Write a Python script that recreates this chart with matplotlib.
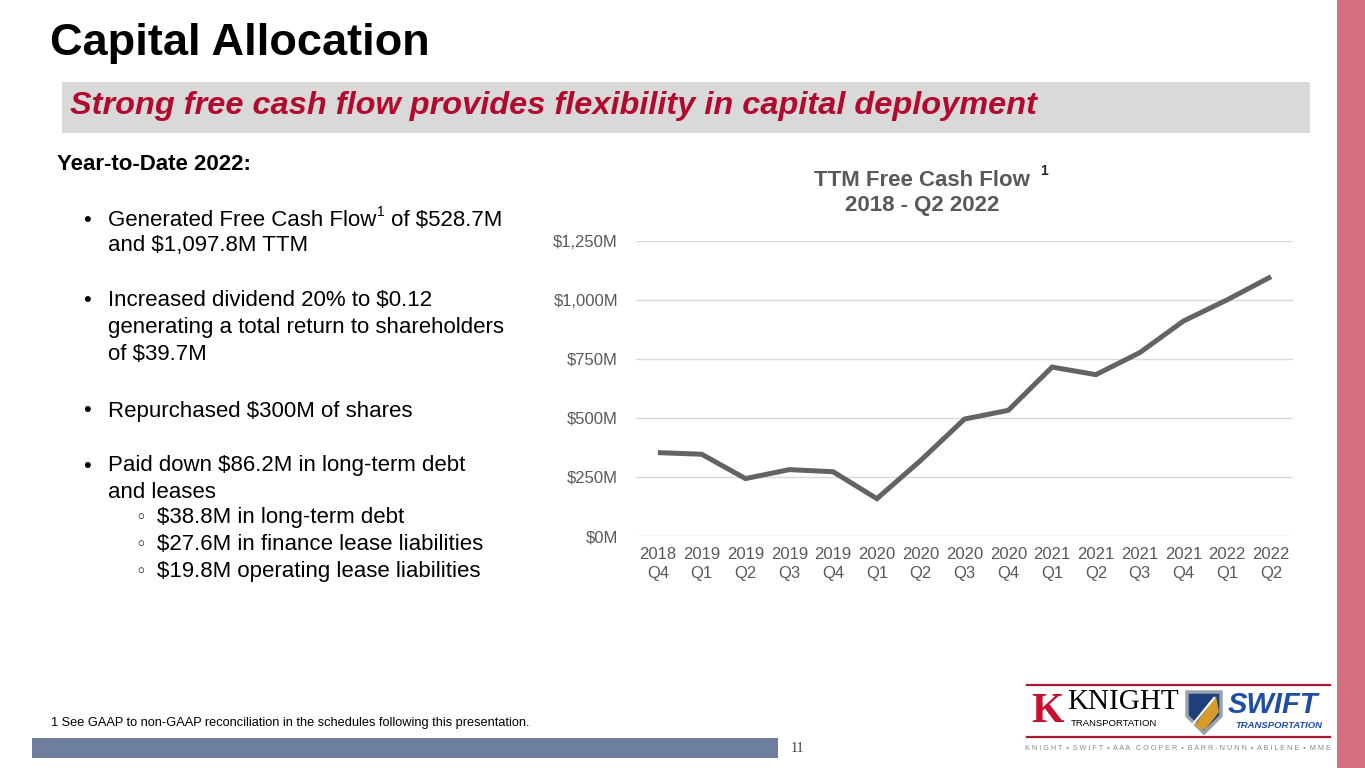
import matplotlib
matplotlib.use("Agg")
import matplotlib.pyplot as plt
from matplotlib.patches import Rectangle, Polygon

plt.rcParams["font.family"] = ["Liberation Sans", "DejaVu Sans"]
plt.rcParams["text.parse_math"] = False

# ── data ──────────────────────────────────────────────────────────────────────
quarters = ["2018\nQ4", "2019\nQ1", "2019\nQ2", "2019\nQ3", "2019\nQ4",
            "2020\nQ1", "2020\nQ2", "2020\nQ3", "2020\nQ4", "2021\nQ1",
            "2021\nQ2", "2021\nQ3", "2021\nQ4", "2022\nQ1", "2022\nQ2"]
fcf_ttm = [353, 346, 243, 281, 272, 158, 320, 495, 532, 715,
           683, 776, 910, 1000, 1097.8]
y_ticks = [0, 250, 500, 750, 1000, 1250]

bullets = [
    ["Generated Free Cash Flow", "and $1,097.8M TTM"],
    ["Increased dividend 20% to $0.12",
     "generating a total return to shareholders", "of $39.7M"],
    ["Repurchased $300M of shares"],
    ["Paid down $86.2M in long-term debt", "and leases"],
]
sub_bullets = ["$38.8M in long-term debt",
               "$27.6M in finance lease liabilities",
               "$19.8M operating lease liabilities"]

W, H = 1365, 768
RED = "#b20a2f"
GREY_TXT = "#595959"

fig = plt.figure(figsize=(W / 100, H / 100), dpi=100)
fig.patch.set_facecolor("white")

# pixel-space overlay for slide furniture
bg = fig.add_axes([0, 0, 1, 1])
bg.set_xlim(0, W); bg.set_ylim(H, 0)
bg.axis("off")
bg.patch.set_alpha(0)

bg.add_patch(Rectangle((1337, 0), 28, H, color="#d6707f", lw=0))
bg.add_patch(Rectangle((62, 82), 1248, 51, color="#d9d9d9", lw=0))
bg.add_patch(Rectangle((32, 738), 746, 20, color="#6e7e9f", lw=0))

bg.text(50, 44, "Capital Allocation", fontsize=32.5, fontweight="bold",
        color="black", va="center", ha="left")
bg.text(70, 106, "Strong free cash flow provides flexibility in capital deployment",
        fontsize=23.4, fontweight="bold", fontstyle="italic", color=RED,
        va="center", ha="left")

# ── left text block ───────────────────────────────────────────────────────────
bg.text(57, 165, "Year-to-Date 2022:", fontsize=16, fontweight="bold",
        va="center", ha="left")

line_y = [[220, 246], [300, 327, 354], [411], [466, 492]]
first_line = None
for lines, ys in zip(bullets, line_y):
    bg.text(83, ys[0], "•", fontsize=16, va="center", ha="left")
    for txt, y in zip(lines, ys):
        t = bg.text(108, y, txt, fontsize=16, va="center", ha="left")
        if first_line is None:
            first_line = t

# superscript after "Generated Free Cash Flow"
fig.canvas.draw()
r = fig.canvas.get_renderer()
bb = first_line.get_window_extent(r)
sup = fig.text(bb.x1 / W + 0.0005, 1 - 212 / H, "1", fontsize=10, va="center", ha="left")
bb2 = sup.get_window_extent(r)
fig.text(bb2.x1 / W, 1 - 220 / H, " of $528.7M", fontsize=16, va="center", ha="left")

for txt, y in zip(sub_bullets, [518, 545, 572]):
    bg.text(135, y, "◦", fontsize=13, va="center", ha="left",
            family=["DejaVu Sans"])
    bg.text(157, y, txt, fontsize=16, va="center", ha="left")

bg.text(51, 723, "1 See GAAP to non-GAAP reconciliation in the schedules following this presentation.",
        fontsize=9.2, va="center", ha="left")
bg.text(797, 748, "11", fontsize=10, family="Liberation Serif", color="#404040",
        va="center", ha="center")

# ── chart ─────────────────────────────────────────────────────────────────────
bg.text(922, 180, "TTM Free Cash Flow", fontsize=16, fontweight="bold",
        color=GREY_TXT, va="center", ha="center")
bg.text(922, 206, "2018 - Q2 2022", fontsize=16, fontweight="bold",
        color=GREY_TXT, va="center", ha="center")
bg.text(1044, 171, "1", fontsize=10, fontweight="bold", color="#262626",
        va="center", ha="center")

ax = fig.add_axes([636 / W, 1 - 536 / H, (1293 - 636) / W, (536 - 240.7) / H])
x = list(range(len(quarters)))
ax.plot(x, fcf_ttm, color="#636363", lw=3.6, solid_capstyle="butt",
        solid_joinstyle="miter")
ax.set_xlim(-0.5, len(quarters) - 0.5)
ax.set_ylim(0, 1250)
ax.set_yticks(y_ticks)
ax.set_yticklabels([f"${v:,}M" for v in y_ticks])
ax.set_xticks(x)
ax.set_xticklabels(quarters, linespacing=1.35)
ax.grid(axis="y", color="#d9d9d9", lw=1)
ax.set_axisbelow(True)
for s in ax.spines.values():
    s.set_visible(False)
ax.tick_params(length=0, labelsize=12, colors=GREY_TXT)
ax.tick_params(axis="y", pad=13)
ax.tick_params(axis="x", pad=8)
ax.patch.set_alpha(0)

# ── logo (approximation) ──────────────────────────────────────────────────────
bg.plot([1027, 1330], [685, 685], color="#a6192e", lw=1.6)
bg.plot([1027, 1330], [737, 737], color="#a6192e", lw=1.6)
bg.text(1047, 712, "K", fontsize=30, fontweight="bold", family="Liberation Serif",
        color="#c8102e", va="center", ha="center")
bg.text(1067, 702, "KNIGHT", fontsize=21, family="Liberation Serif",
        color="black", va="center", ha="left")
bg.text(1071, 724, "TRANSPORTATION", fontsize=6.8, color="black",
        va="center", ha="left")
shield = [(1187, 692), (1221, 692), (1221, 716), (1204, 733), (1187, 716)]
bg.add_patch(Polygon(shield, closed=True, fc="#1d3f7a", ec="#9aa3ad", lw=2.5))
bg.add_patch(Polygon([(1194, 726), (1216, 696), (1219, 712), (1205, 730)],
                     closed=True, fc="#d59b2b", ec="none"))
bg.plot([1193, 1214], [724, 698], color="white", lw=1.6)
bg.text(1228, 705, "SWIFT", fontsize=21, fontweight="bold", fontstyle="italic",
        color="#1f4fa3", va="center", ha="left")
bg.text(1235, 725, "TRANSPORTATION", fontsize=6.8, fontstyle="italic",
        fontweight="bold", color="#1f4fa3", va="center", ha="left")
bg.text(1178, 749, "K N I G H T  •  S W I F T  •  A A A   C O O P E R  •  B A R R - N U N N  •  A B I L E N E  •  M M E",
        fontsize=5.2, color="#8a8a8a", va="center", ha="center")

fig.savefig("out.png", dpi=100)
